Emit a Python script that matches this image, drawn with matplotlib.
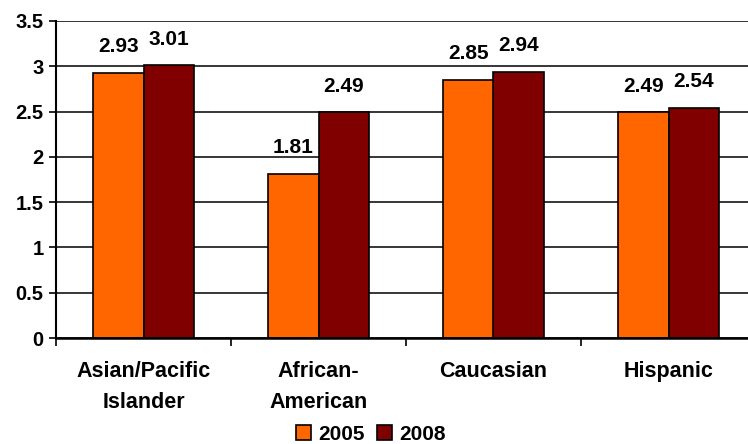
import numpy as np
import matplotlib
matplotlib.use('Agg')
import matplotlib.pyplot as plt

# values shown on the chart
categories = ['Asian/Pacific\nIslander', 'African-\nAmerican', 'Caucasian', 'Hispanic']
series_names = ['2005', '2008']
values_2005 = [2.93, 1.81, 2.85, 2.49]
values_2008 = [3.01, 2.49, 2.94, 2.54]
colors = ['#FF6600', '#800000']

plt.rcParams['font.family'] = ['Liberation Sans', 'DejaVu Sans']
plt.rcParams['font.weight'] = 'bold'

fig = plt.figure(figsize=(7.48, 4.44), dpi=100)
# plot area runs a little past the right edge of the figure
ax = fig.add_axes([56 / 748, 106 / 444, 700 / 748, 317 / 444])

x = np.arange(len(categories))
w = 0.286
for k, (vals, name) in enumerate(zip([values_2005, values_2008], series_names)):
    bars = ax.bar(x + (k - 0.5) * w, vals, width=w, color=colors[k],
                  edgecolor='black', linewidth=1.2, label=name, zorder=3)
    ax.bar_label(bars, labels=['%.2f' % v for v in vals], padding=12,
                 fontsize=15, fontweight='bold')

ax.set_xlim(-0.5, len(categories) - 0.5)
ax.set_ylim(0, 3.5)
ax.set_yticks(np.arange(0, 3.51, 0.5))
ax.set_yticklabels(['0', '0.5', '1', '1.5', '2', '2.5', '3', '3.5'])
ax.yaxis.grid(True, color='black', linewidth=1.1, zorder=0)

ax.set_xticks(x)
ax.set_xticklabels(categories, linespacing=1.6)
ax.set_xticks(np.arange(-0.5, len(categories), 1.0), minor=True)
ax.tick_params(axis='x', which='major', length=0, pad=16.5, labelsize=15.5)
ax.tick_params(axis='x', which='minor', length=6, width=1.2, direction='out')
ax.tick_params(axis='y', length=5, width=1.2, labelsize=14.5, pad=4)

for side in ['top', 'right']:
    ax.spines[side].set_visible(False)
ax.spines['left'].set_linewidth(1.5)
ax.spines['bottom'].set_linewidth(1.8)
ax.spines['bottom'].set_zorder(4)

handles, labels = ax.get_legend_handles_labels()
fig.legend(handles, labels, loc='center', bbox_to_anchor=(0.496, 0.022), ncol=2,
           frameon=False, fontsize=15, handlelength=0.7, handleheight=0.7,
           handletextpad=0.35, columnspacing=0.6, borderpad=0)

fig.savefig('out.png', dpi=100)
